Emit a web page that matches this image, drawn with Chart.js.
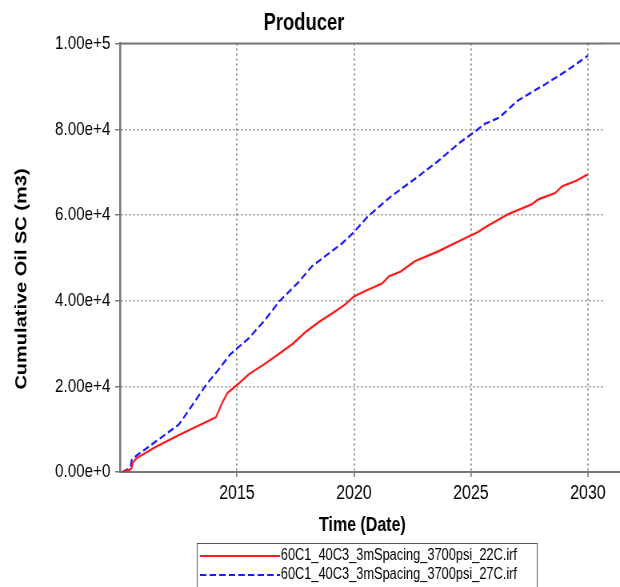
<!DOCTYPE html>
<html>
<head>
<meta charset="utf-8">
<script src="https://cdn.jsdelivr.net/npm/chart.js@4.4.1/dist/chart.umd.min.js"></script>
<style>
  html, body { margin: 0; padding: 0; background: #fff; overflow: hidden; }
  #wrap { width: 620px; height: 587px; overflow: hidden; position: relative; }
  /* the source picture is squeezed horizontally, so draw wide and squeeze */
  #chart { position: absolute; left: 0; top: 0; transform: scaleX(0.8); transform-origin: 0 0; }
</style>
</head>
<body>
<div id="wrap"><canvas id="chart" width="905" height="587"></canvas></div>
<script>
const redYears = [2010.1, 2010.4, 2010.5, 2010.55, 2010.7, 2011.5, 2012.5, 2013.5, 2014.1, 2014.4, 2014.6, 2015.0, 2015.5, 2016.2, 2016.8, 2017.4, 2017.96, 2018.5, 2019.06, 2019.6, 2020.0, 2020.5, 2021.2, 2021.5, 2022.0, 2022.6, 2023.6, 2024.5, 2025.3, 2025.7, 2026.6, 2027.6, 2027.9, 2028.6, 2028.9, 2029.5, 2030.0]
const redOil = [0, 500, 900, 2200, 3200, 5800, 8600, 11200, 12800, 16500, 18500, 20300, 22800, 25300, 27600, 30000, 32800, 35000, 37000, 39000, 41000, 42300, 44000, 45700, 46800, 49200, 51500, 53900, 56000, 57400, 60200, 62500, 63700, 65100, 66700, 68000, 69500]

const blueYears = [2010.1, 2010.45, 2010.5, 2010.7, 2011.0, 2011.5, 2012.0, 2012.5, 2012.7, 2013.2, 2013.7, 2014.2, 2014.7, 2015.5, 2016.2, 2016.8, 2017.66, 2018.2, 2018.8, 2019.5, 2020.0, 2020.6, 2021.6, 2022.6, 2023.6, 2024.5, 2025.3, 2025.6, 2026.2, 2027.0, 2028.2, 2029.1, 2030.0]
const blueOil = [0, 1000, 2800, 3800, 5000, 7000, 9000, 11000, 12500, 16500, 20500, 23800, 27400, 31200, 35500, 39800, 44500, 48000, 50500, 53400, 56000, 59700, 64400, 68400, 72600, 76800, 80000, 81300, 82700, 86700, 90600, 93700, 97200]

const seriesNames = ['60C1_40C3_3mSpacing_3700psi_22C.irf', '60C1_40C3_3mSpacing_3700psi_27C.irf']
const xTicks = [2015, 2020, 2025, 2030]
const yTicks = [0, 20000, 40000, 60000, 80000, 100000]
const yTitle = 'Cumulative Oil SC (m3)'

const font = '"Liberation Sans", Arial, sans-serif'

const toPoints = (xs, ys) => xs.map((x, i) => ({ x: x, y: ys[i] }))

// frame lines running off the right edge, the y title a bit low, and the boxed legend
const extras = {
  id: 'extras',
  afterDraw(chart) {
    const c = chart.ctx
    const a = chart.chartArea
    c.save()
    c.strokeStyle = '#777'
    c.lineWidth = 2
    c.beginPath()
    c.moveTo(a.left, a.top)
    c.lineTo(chart.width, a.top)
    c.moveTo(a.right, a.bottom)
    c.lineTo(chart.width, a.bottom)
    c.stroke()

    c.save()
    c.translate(27, 279)
    c.rotate(-Math.PI / 2)
    c.font = 'bold 20px ' + font
    c.fillStyle = '#000'
    c.textAlign = 'center'
    c.textBaseline = 'middle'
    c.fillText(yTitle, 0, 0)
    c.restore()

    const bx = 246, by = 543, bw = 425, bh = 60
    c.lineWidth = 1
    c.strokeStyle = '#555'
    c.strokeRect(bx + 0.5, by + 0.5, bw, bh)
    c.font = '16px ' + font
    c.fillStyle = '#000'
    c.textBaseline = 'middle'
    chart.data.datasets.forEach((ds, i) => {
      const y = by + 13 + i * 19
      c.strokeStyle = ds.borderColor
      c.lineWidth = 2
      c.setLineDash(ds.borderDash || [])
      c.beginPath()
      c.moveTo(bx + 4, y)
      c.lineTo(bx + 104, y)
      c.stroke()
      c.setLineDash([])
      c.fillText(ds.label, bx + 105, y)
    })
    c.restore()
  }
}

new Chart(document.getElementById('chart'), {
  type: 'line',
  data: {
    datasets: [
      {
        label: seriesNames[0],
        data: toPoints(redYears, redOil),
        borderColor: '#ff1a1a',
        borderWidth: 2.2,
        pointRadius: 0,
        tension: 0,
      },
      {
        label: seriesNames[1],
        data: toPoints(blueYears, blueOil),
        borderColor: '#1a1aff',
        borderWidth: 2.2,
        borderDash: [8, 4],
        pointRadius: 0,
        tension: 0,
      },
    ],
  },
  options: {
    responsive: false,
    devicePixelRatio: 1,
    animation: false,
    layout: { padding: { left: 4, right: 149, top: 10, bottom: 50 } },
    plugins: {
      legend: { display: false },
      tooltip: { enabled: false },
      title: {
        display: true,
        text: 'Producer',
        color: '#000',
        font: { family: font, size: 23, weight: 'bold' },
        padding: { top: 0, bottom: 6 },
      },
    },
    scales: {
      x: {
        type: 'linear',
        min: 2010,
        max: 2030.72,
        afterBuildTicks: (axis) => { axis.ticks = xTicks.map(v => ({ value: v })) },
        ticks: {
          color: '#000',
          font: { family: font, size: 20 },
          maxRotation: 0,
          padding: 4,
          callback: (v) => String(v),
        },
        grid: { color: '#888', lineWidth: 1.8, tickLength: 5, tickColor: '#888' },
        border: { color: '#777', width: 2, dash: [2, 3] },
        title: {
          display: true,
          text: 'Time (Date)',
          color: '#000',
          font: { family: font, size: 20, weight: 'bold' },
          padding: { top: 4, bottom: 0 },
        },
      },
      y: {
        min: 0,
        max: 100000,
        afterBuildTicks: (axis) => { axis.ticks = yTicks.map(v => ({ value: v })) },
        afterFit: (axis) => { axis.width = 146 },
        ticks: {
          color: '#000',
          font: { family: font, size: 19 },
          padding: 6,
          callback: (v) => v.toExponential(2),
        },
        grid: { color: '#888', lineWidth: 1.5, tickLength: 6, tickColor: '#777' },
        border: { color: '#777', width: 2.5, dash: [2, 3] },
        title: { display: false },
      },
    },
  },
  plugins: [extras],
})
</script>
</body>
</html>
